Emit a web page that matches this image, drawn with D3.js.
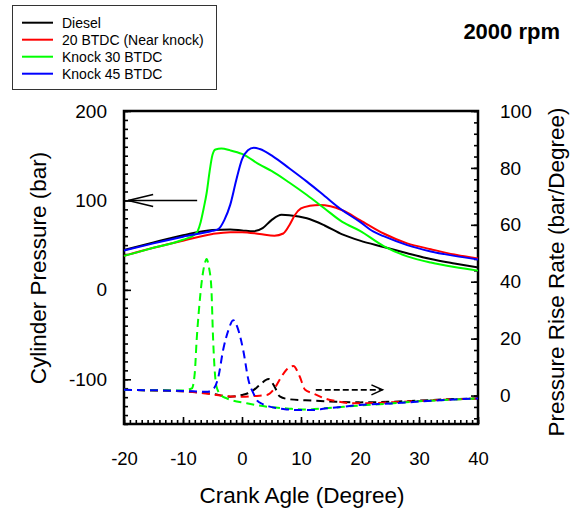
<!DOCTYPE html>
<html>
<head lang="en">
    <meta charset="UTF-8">
    <title></title>
    <script src="https://cdn.jsdelivr.net/npm/d3@7/dist/d3.min.js"></script>
    <style>
        body{margin:0;background:#fff;}
        text{font-family:Arial,"Liberation Sans",sans-serif;fill:#000;}
    </style>
</head>
<body>
<div id="tu1"></div>
<script>
    // cylinder pressure (bar) - left axis, solid lines
    var dieselAng=[-20,-15,-10,-5,-2,0,2,3.5,5,6.7,8,11,14,17,20,24,28,32,36,40];
    var dieselP=[44.5,53,61,67,67.5,66.5,65.5,69,78,84,83.5,80,72,62,55,48,41,34.5,29.5,25];
    var nearAng=[-20,-15,-10,-5,-2,0,3,5.5,7,8,9,10,11.5,13.2,15,17,20,24,28,32,36,40];
    var nearP=[38,47,55,62.5,64.5,64.5,62.5,60.5,63,72,84,91,94,95,93.5,89,78,63,52,45.5,39.5,35];
    var k30Ang=[-20,-15,-10,-8,-7.5,-7,-6.5,-6,-5.5,-5,-4.5,-3.5,-2,0,3,5,8,11,14,17,20,24,28,32,36,40];
    var k30P=[38,47,56,62,66,76,91,108,132,151,157,158,156,152,140,133,120,106,91,76,66,49,37.5,30.5,25.5,21.5];
    var k45Ang=[-20,-15,-10,-5,-4,-3,-2,-1,0,1,2,3,5.3,8,11,14,16.6,20,22.3,24,28,32,36,40];
    var k45P=[44,52,59.5,66,68,78,95,122,146,156,159,157.5,149,136,121,105,91,76,65,60,50,43,38,34];

    // pressure rise rate (bar/degree) - right axis, dashed lines
    var dieselRAng=[-20,-10,-5,-2,0,1,2,3,4.5,5.5,6.4,8,12,16,20,25,30,35,40];
    var dieselR=[2,1.5,0.6,-0.4,0.2,0.8,2,3.7,5.8,3.2,-0.3,-1.3,-1.8,-2.2,-2.4,-2.2,-1.8,-1.3,-1];
    var nearRAng=[-20,-10,-5,-2,0,2,4.2,5.5,6.5,7.5,8.7,9.8,10.7,12,14,16,18.5,21,25,30,35,40];
    var nearR=[2,1.5,0.4,-0.3,-0.4,-0.2,0.2,2.5,6,9,10.4,6.6,2,0.8,-1,-2,-2.7,-2.7,-2.4,-1.9,-1.4,-1];
    var k30RAng=[-20,-10,-8.5,-8,-7.7,-7.3,-6.8,-6.3,-6,-5.6,-5.2,-4.9,-4.6,-4.3,-3.5,-2.6,0.8,4.2,8,11,14,20,25,30,35,40];
    var k30R=[2,1.8,2.5,8,19,30,40.5,46.5,48,45,38,20,8,3,0,-1,-2.7,-3.9,-4.6,-4.9,-4.5,-3.5,-2.8,-2,-1.5,-1];
    var k45RAng=[-20,-10,-6,-5,-4,-3.2,-2.3,-1.5,-0.7,0.2,1.1,2,2.5,3.5,4.7,7,9.3,12,14.4,17,20,23,26,30,35,40];
    var k45R=[2,1.6,1.3,2,6.6,16,23,26.5,23.5,16,5.4,0.5,-1.6,-3,-3.9,-4.7,-5.1,-5.1,-4.5,-4,-3.3,-3,-2.7,-2.1,-1.5,-1];

    var names=['Diesel','20 BTDC (Near knock)','Knock 30 BTDC','Knock 45 BTDC'];
    var colors=['#000000','#ff0000','#00ff00','#0000ff'];
    var xticks=[-20,-10,0,10,20,30,40];
    var yticksL=[-100,0,100,200];
    var yticksR=[0,20,40,60,80,100];
    // arrows pointing to each axis
    var arrowLeft=[[-7.6,100],[-19.3,100]];
    var arrowRight=[[12.5,2],[23.8,2]];

    var svgwidth=571,svgheight=510;
    var _margin={top:111,right:93,bottom:86,left:124};
    var x0=_margin.left,x1=svgwidth-_margin.right,y0=_margin.top,y1=svgheight-_margin.bottom;

    var _svg=d3.select('#tu1').append('svg')
            .attr('width',svgwidth)
            .attr('height',svgheight);

    var xScale=d3.scaleLinear().domain([-20,40]).range([x0,x1]);
    var yLeft=d3.scaleLinear().domain([-150,200]).range([y1,y0]);
    var yRight=d3.scaleLinear().domain([-10,100]).range([y1,y0]);
    // plain hyphen for negative labels
    var fmt=function(d){return String(d);};

    function styleAxis(g,size){
        g.select('.domain').remove();
        g.selectAll('.tick line').attr('stroke','#000').attr('stroke-width',1.6);
        g.selectAll('text').attr('font-family','Arial, "Liberation Sans", sans-serif')
                .attr('font-size',size).attr('fill','#000');
        g.attr('font-family',null).attr('font-size',null);
    }

    // bottom axis
    var gxMinor=_svg.append('g').attr('transform','translate(0,'+y1+')')
            .call(d3.axisBottom(xScale).tickValues(d3.range(-20,41,1)).tickSize(-4).tickFormat(''));
    styleAxis(gxMinor,19);
    var gx=_svg.append('g').attr('transform','translate(0,'+y1+')')
            .call(d3.axisBottom(xScale).tickValues(xticks).tickSize(-7).tickPadding(28).tickFormat(fmt));
    styleAxis(gx,18.5);

    // left axis
    var gyMinor=_svg.append('g').attr('transform','translate('+x0+',0)')
            .call(d3.axisLeft(yLeft).tickValues(d3.range(-150,201,10)).tickSize(-4).tickFormat(''));
    styleAxis(gyMinor,19);
    var gy=_svg.append('g').attr('transform','translate('+x0+',0)')
            .call(d3.axisLeft(yLeft).tickValues(yticksL).tickSize(-7).tickPadding(17).tickFormat(fmt));
    styleAxis(gy,19);

    // right axis
    var grMinor=_svg.append('g').attr('transform','translate('+x1+',0)')
            .call(d3.axisRight(yRight).tickValues(d3.range(-8,101,4)).tickSize(-4).tickFormat(''));
    styleAxis(grMinor,19);
    var gr=_svg.append('g').attr('transform','translate('+x1+',0)')
            .call(d3.axisRight(yRight).tickValues(yticksR).tickSize(-7).tickPadding(22).tickFormat(fmt));
    styleAxis(gr,19);

    // frame
    _svg.append('rect')
            .attr('x',x0).attr('y',y0)
            .attr('width',x1-x0).attr('height',y1-y0)
            .attr('fill','none').attr('stroke','#000').attr('stroke-width',2.5);

    var solidSets=[[dieselAng,dieselP],[nearAng,nearP],[k30Ang,k30P],[k45Ang,k45P]];
    var dashSets=[[dieselRAng,dieselR],[nearRAng,nearR],[k30RAng,k30R],[k45RAng,k45R]];

    var lineL=d3.line().x(function(d){return xScale(d[0]);}).y(function(d){return yLeft(d[1]);}).curve(d3.curveMonotoneX);
    var lineR=d3.line().x(function(d){return xScale(d[0]);}).y(function(d){return yRight(d[1]);}).curve(d3.curveMonotoneX);

    var gLines=_svg.append('g');
    dashSets.forEach(function(s,i){
        gLines.append('path')
                .attr('d',lineR(d3.zip(s[0],s[1])))
                .attr('fill','none')
                .attr('stroke',colors[i])
                .attr('stroke-width',2)
                .attr('stroke-dasharray','8,5');
    });
    solidSets.forEach(function(s,i){
        gLines.append('path')
                .attr('d',lineL(d3.zip(s[0],s[1])))
                .attr('fill','none')
                .attr('stroke',colors[i])
                .attr('stroke-width',2);
    });

    // arrows
    function drawArrow(pts,scaleY,dash,arm,spread,width){
        var ax=xScale(pts[0][0]),ay=scaleY(pts[0][1]);
        var bx=xScale(pts[1][0]),by=scaleY(pts[1][1]);
        var dir=bx>ax?1:-1;
        var g=_svg.append('g').attr('stroke','#000').attr('stroke-width',width).attr('fill','none');
        g.append('line').attr('x1',ax).attr('y1',ay).attr('x2',bx).attr('y2',by)
                .attr('stroke-dasharray',dash);
        g.append('path').attr('d','M'+(bx-dir*arm)+','+(by-spread)+'L'+bx+','+by+'L'+(bx-dir*arm)+','+(by+spread));
    }
    drawArrow(arrowLeft,yLeft,null,25,6,1.6);
    drawArrow(arrowRight,yRight,'6,3',11,5,1.6);

    // axis titles
    _svg.append('text')
            .attr('x',(x0+x1)/2+1).attr('y',503)
            .attr('text-anchor','middle')
            .attr('font-size',22.5)
            .text('Crank Agle (Degree)');
    _svg.append('text')
            .attr('transform','translate(46,268) rotate(-90)')
            .attr('text-anchor','middle')
            .attr('font-size',22.5)
            .text('Cylinder Pressure (bar)');
    _svg.append('text')
            .attr('transform','translate(564,272) rotate(-90)')
            .attr('text-anchor','middle')
            .attr('font-size',22.5)
            .text('Pressure Rise Rate (bar/Degree)');

    // title
    _svg.append('text')
            .attr('x',560).attr('y',39)
            .attr('text-anchor','end')
            .attr('font-size',22)
            .attr('font-weight','bold')
            .text('2000 rpm');

    // legend
    var gLeg=_svg.append('g');
    gLeg.append('rect')
            .attr('x',12.5).attr('y',5.5).attr('width',204).attr('height',84)
            .attr('fill','#fff').attr('stroke','#333').attr('stroke-width',1);
    var legItem=gLeg.selectAll('.leg').data(names).enter().append('g')
            .attr('class','leg')
            .attr('transform',function(d,i){return 'translate(0,'+(22.7+i*17)+')';});
    legItem.append('line')
            .attr('x1',22).attr('x2',53)
            .attr('stroke',function(d,i){return colors[i];})
            .attr('stroke-width',2);
    legItem.append('text')
            .attr('x',62).attr('dy','0.36em')
            .attr('font-size',14)
            .text(function(d){return d;});
</script>
</body>
</html>
